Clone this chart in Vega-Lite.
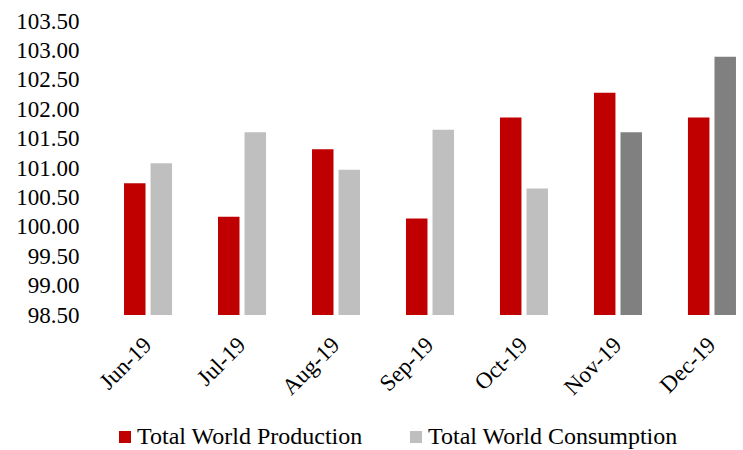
{
  "$schema": "https://vega.github.io/schema/vega-lite/v6.json",
  "width": 655,
  "height": 294,
  "padding": {"left": 15, "top": 10, "right": 0, "bottom": 0},
  "background": "white",
  "config": {
    "font": "'Liberation Serif', 'Times New Roman', serif",
    "view": {"stroke": null},
    "axis": {"grid": false, "domain": false, "ticks": false, "labelColor": "#000000", "labelFont": "'Liberation Serif', 'Times New Roman', serif"}
  },
  "data": {
    "values": [
      {"month": "Jun-19", "series": "Total World Production", "value": 100.74},
      {"month": "Jun-19", "series": "Total World Consumption", "value": 101.08},
      {"month": "Jul-19", "series": "Total World Production", "value": 100.17},
      {"month": "Jul-19", "series": "Total World Consumption", "value": 101.61},
      {"month": "Aug-19", "series": "Total World Production", "value": 101.32},
      {"month": "Aug-19", "series": "Total World Consumption", "value": 100.97},
      {"month": "Sep-19", "series": "Total World Production", "value": 100.14},
      {"month": "Sep-19", "series": "Total World Consumption", "value": 101.65},
      {"month": "Oct-19", "series": "Total World Production", "value": 101.86},
      {"month": "Oct-19", "series": "Total World Consumption", "value": 100.65},
      {"month": "Nov-19", "series": "Total World Production", "value": 102.28},
      {"month": "Nov-19", "series": "Total World Consumption", "value": 101.61},
      {"month": "Dec-19", "series": "Total World Production", "value": 101.86},
      {"month": "Dec-19", "series": "Total World Consumption", "value": 102.89}
    ]
  },
  "mark": {"type": "bar", "clip": true},
  "encoding": {
    "x": {
      "field": "month", "type": "nominal", "sort": null, "title": null,
      "scale": {"paddingInner": 0.489, "paddingOuter": 0.229, "align": 0.86},
      "axis": {"labelAngle": -45, "labelAlign": "right", "labelBaseline": "middle", "labelFontSize": 23, "labelPadding": 26}
    },
    "xOffset": {
      "field": "series", "type": "nominal",
      "sort": ["Total World Production", "Total World Consumption"],
      "scale": {"paddingInner": 0.19}
    },
    "y": {
      "field": "value", "type": "quantitative", "title": null,
      "scale": {"domain": [98.5, 103.5], "zero": false, "nice": false},
      "axis": {"values": [98.5, 99, 99.5, 100, 100.5, 101, 101.5, 102, 102.5, 103, 103.5], "format": ".2f", "labelFontSize": 23, "labelPadding": 8}
    },
    "color": {
      "condition": {"test": "(datum.month === 'Nov-19' || datum.month === 'Dec-19') && datum.series === 'Total World Consumption'", "value": "#808080"},
      "field": "series", "type": "nominal",
      "scale": {"domain": ["Total World Production", "Total World Consumption"], "range": ["#C00000", "#BFBFBF"]},
      "legend": {
        "title": null, "orient": "none", "direction": "horizontal",
        "legendX": 26, "legendY": 404,
        "symbolType": "square", "symbolSize": 144, "symbolStrokeWidth": 0,
        "labelFontSize": 24, "labelFont": "'Liberation Serif', 'Times New Roman', serif", "labelColor": "#000000",
        "labelLimit": 400, "columnPadding": 41, "labelOffset": 0
      }
    }
  }
}
